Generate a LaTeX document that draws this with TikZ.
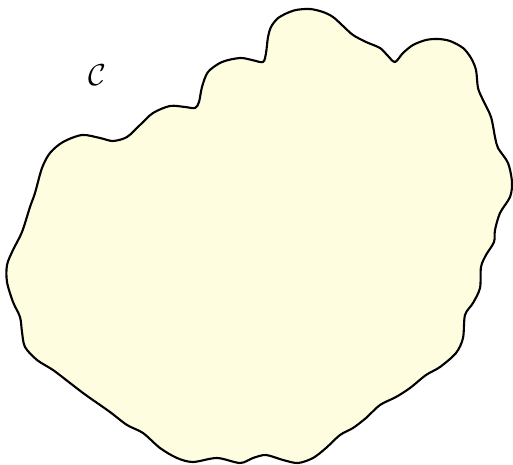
\documentclass[tikz,border=0pt]{standalone}
\usepackage{tikz}
\definecolor{blobfill}{RGB}{255,253,224}
\tikzset{
  blob/.style={draw, line width=1.2pt, fill=blobfill, line join=round},
  setlabel/.style={font=\LARGE}
}

\begin{document}
\begin{tikzpicture}[x=0.02cm, y=-0.02cm]
    \useasboundingbox (0,0) rectangle (513,465);

    % Set boundary
    \path[blob] plot[smooth cycle, tension=0.5] coordinates {
        (82,135) (100,138) (113,141) (127,137) (140,125) (153,113) (170,106)
        (185,107) (195,108) (199,102) (202,87) (208,72) (222,62) (240,58)
        (252,60) (263,62) (266,53) (268,37) (271,27) (277,19) (285,14)
        (296,10) (310,9) (323,12) (333,17) (343,26) (353,35) (366,42)
        (380,48) (388,56) (395,62) (403,53) (413,45) (426,40) (438,39)
        (450,41) (463,48) (471,58) (476,70) (478,88)
        (483,100) (491,117) (495,137) (498,148) (508,163) (512,182)
        (510,197) (500,213) (495,230) (494,242) (486,255) (481,267)
        (480,288) (473,303) (465,315) (463,338) (456,353) (440,367)
        (426,375) (410,388) (396,397) (380,405) (366,418) (353,428)
        (340,435) (326,448) (313,458) (298,463) (283,460) (266,455)
        (253,458) (240,463) (217,458) (193,462) (177,458) (160,448)
        (143,433) (127,425) (110,412) (90,398) (83,393) (70,383) (53,370)
        (37,360) (25,347) (22,332) (20,317) (13,302) (7,282) (7,265)
        (13,250) (22,232) (30,207) (35,193) (42,168) (50,153) (63,142)};

    % Label
    \node[setlabel] (setC) at (97,75) {$\mathcal{C}$};
\end{tikzpicture}
\end{document}
